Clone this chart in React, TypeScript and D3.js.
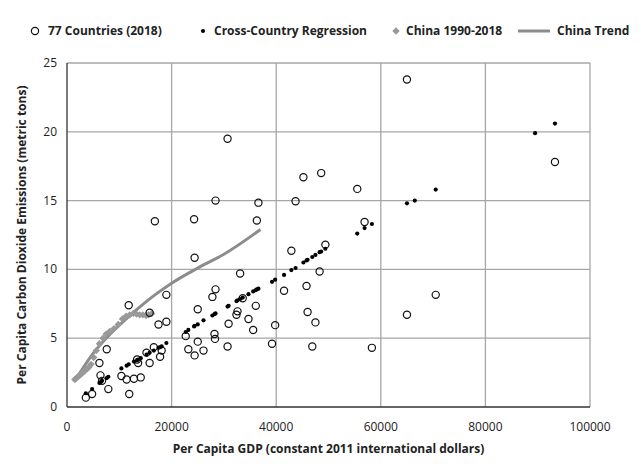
import React from "react";
import * as d3 from "d3";

const countryGdp = [3600,4800,7900,6400,6200,7600,6700,10400,11400,12800,14100,11900,13400,13600,15200,15800,16600,17800,18100,17500,19000,15800,11800,19000,16800,
30700,28400,36600,24300,36300,24400,33100,28400,27800,25000,33600,32600,32400,30900,36100,34700,35600,28200,28300,22700,25000,23200,24400,26100,30700,39200,39800,41500,42900,45200,48600,43700,45800,48300,49400,46000,47500,46900,55500,56900,65000,65000,70500,58300,93300];
const countryCo2 = [0.68,0.95,1.3,2.3,3.2,4.2,1.9,2.25,2.0,2.05,2.15,0.95,3.45,3.2,3.95,3.2,4.35,3.65,4.1,6.0,6.2,6.85,7.4,8.15,13.5,
19.5,15.0,14.85,13.65,13.55,10.85,9.7,8.55,8.0,7.1,7.9,6.95,6.7,6.05,7.35,6.4,5.6,5.3,4.95,5.15,4.75,4.2,3.75,4.1,4.4,4.6,5.95,8.45,11.35,16.7,17.0,14.95,8.8,9.85,11.8,6.9,6.15,4.4,15.85,13.45,23.8,6.7,8.15,4.3,17.8];
const regGdp = [3600,4800,6200,6400,6700,7600,7900,10400,11400,11800,12800,13400,13600,14100,15200,15800,16600,17500,17800,18100,19000,22700,23200,24300,24400,25000,26100,27800,28200,28400,30700,30900,32400,32600,33100,33600,34700,35600,36100,36300,36600,39200,39800,41500,42900,43700,45200,45800,46000,46900,47500,48300,48600,49400,55500,56900,58300,65000,66500,70500,89500,93300];
const regCo2 = [1.0,1.3,1.75,1.8,1.9,2.1,2.2,2.8,3.0,3.1,3.3,3.4,3.45,3.55,3.8,3.95,4.1,4.3,4.35,4.4,4.65,5.45,5.6,5.85,5.9,6.0,6.3,6.65,6.75,6.8,7.3,7.35,7.7,7.75,7.85,7.95,8.2,8.4,8.5,8.55,8.6,9.1,9.25,9.6,9.95,10.1,10.5,10.65,10.7,10.9,11.05,11.25,11.3,11.5,12.6,13.0,13.3,14.8,15.0,15.8,19.9,20.6];
const chinaGdp = [1500,1800,2100,2400,2700,3000,3300,3600,3900,4200,4600,5100,5600,6200,6900,7500,8200,9000,9800,10600,11300,12000,12700,13300,13900,14500,15100,15600,16200];
const chinaCo2 = [2.0,2.1,2.2,2.3,2.4,2.5,2.6,2.7,2.8,2.9,3.1,3.6,4.1,4.6,5.0,5.3,5.5,5.7,6.0,6.4,6.6,6.7,6.8,6.75,6.7,6.7,6.65,6.7,6.8];
const trendGdp = [1500,3000,5000,8000,11000,14000,17000,20000,25000,30000,37000];
const trendCo2 = [1.9,2.8,3.9,5.2,6.3,7.3,8.2,9.0,10.1,11.1,12.9];
const xTicks = [0,20000,40000,60000,80000,100000];
const yTicks = [0,5,10,15,20,25];

const font = "'Open Sans', 'Noto Sans', sans-serif";

export default function App() {
  const x = d3.scaleLinear().domain([0, 100000]).range([67, 590]);
  const y = d3.scaleLinear().domain([0, 25]).range([407, 63]);
  const line = d3.line<number>().x((_, i) => x(trendGdp[i])).y((d) => y(d)).curve(d3.curveMonotoneX);
  const grid = "#a6a6a6";
  return (
    <svg width={641} height={468} style={{ position: "absolute", left: 0, top: 0, background: "#fff" }} fontFamily={font}>
      {yTicks.slice(1).map((t) => (
        <line key={"h" + t} x1={x(0)} x2={x(100000)} y1={y(t)} y2={y(t)} stroke={grid} strokeWidth={1.3} />
      ))}
      {xTicks.slice(1).map((t) => (
        <line key={"v" + t} x1={x(t)} x2={x(t)} y1={y(0)} y2={y(25)} stroke={grid} strokeWidth={1.3} />
      ))}
      <line x1={x(0)} x2={x(0)} y1={y(0)} y2={y(25)} stroke="#333" strokeWidth={1.3} />
      <line x1={x(0)} x2={x(100000)} y1={y(0)} y2={y(0)} stroke="#333" strokeWidth={1.3} />
      {xTicks.map((t) => (
        <text key={"xt" + t} x={x(t)} y={y(0) + 24} textAnchor="middle" fontSize={12} fill="#222">{t}</text>
      ))}
      {yTicks.map((t) => (
        <text key={"yt" + t} x={x(0) - 10} y={y(t) + 4} textAnchor="end" fontSize={12} fill="#222">{t}</text>
      ))}
      <text x={(x(0) + x(100000)) / 2} y={453} textAnchor="middle" fontSize={12} fontWeight="bold" fill="#222">Per Capita GDP (constant 2011 international dollars)</text>
      <text transform={`translate(26,${(y(0) + y(25)) / 2}) rotate(-90)`} textAnchor="middle" fontSize={12} fontWeight="bold" fill="#222">Per Capita Carbon Dioxide Emissions (metric tons)</text>
      <path d={line(trendCo2) || ""} fill="none" stroke="#8c8c8c" strokeWidth={3} />
      {chinaCo2.map((v, i) => (
        <rect key={"c" + i} x={x(chinaGdp[i]) - 2.6} y={y(v) - 2.6} width={5.2} height={5.2} fill="#999" transform={`rotate(45 ${x(chinaGdp[i])} ${y(v)})`} />
      ))}
      {countryCo2.map((v, i) => (
        <circle key={"o" + i} cx={x(countryGdp[i])} cy={y(v)} r={3.6} fill="none" stroke="#111" strokeWidth={1.2} />
      ))}
      {regCo2.map((v, i) => (
        <circle key={"r" + i} cx={x(regGdp[i])} cy={y(v)} r={2.1} fill="#000" />
      ))}
      <g fontSize={12} fontWeight="bold" fill="#222">
        <circle cx={35} cy={31} r={3.6} fill="none" stroke="#111" strokeWidth={1.2} />
        <text x={48} y={35}>77 Countries (2018)</text>
        <circle cx={203} cy={31} r={2.1} fill="#000" />
        <text x={214} y={35}>Cross-Country Regression</text>
        <rect x={393.4} y={28.4} width={5.2} height={5.2} fill="#999" transform="rotate(45 396 31)" />
        <text x={406} y={35}>China 1990-2018</text>
        <line x1={518} x2={550} y1={31} y2={31} stroke="#8c8c8c" strokeWidth={3} />
        <text x={557} y={35}>China Trend</text>
      </g>
    </svg>
  );
}
